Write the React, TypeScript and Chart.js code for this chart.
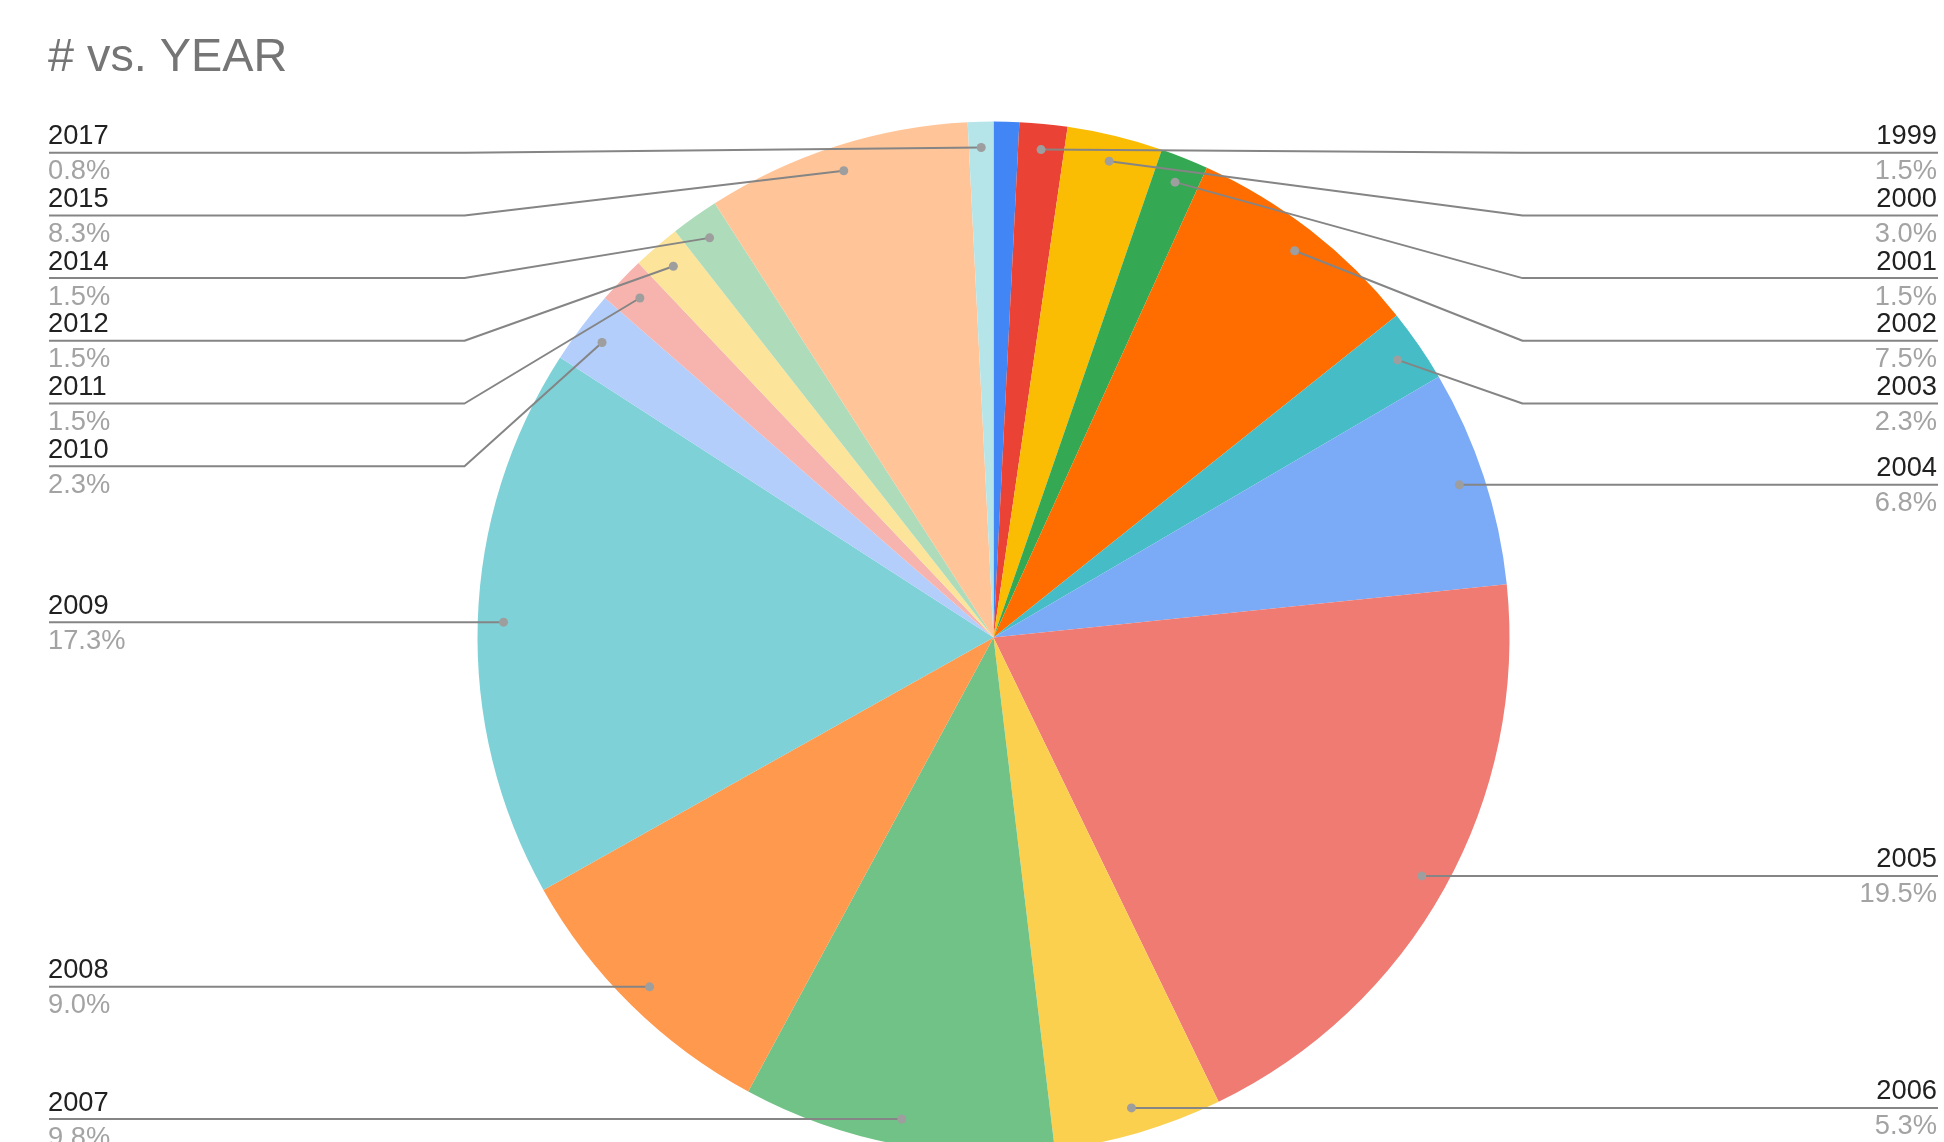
import React, { useEffect, useRef } from "react";
import { Chart, registerables } from "chart.js";

Chart.register(...registerables);

// ---- data ----
const chartTitle = "# vs. YEAR";
const years = ["", "1999", "2000", "2001", "2002", "2003", "2004", "2005", "2006", "2007", "2008", "2009", "2010", "2011", "2012", "2014", "2015", "2017"];
const shares = [0.8, 1.5, 3.0, 1.5, 7.5, 2.3, 6.8, 19.5, 5.3, 9.8, 9.0, 17.3, 2.3, 1.5, 1.5, 1.5, 8.3, 0.8];
const sliceColors = [
  "#4285F4", "#EA4335", "#FBBC04", "#34A853", "#FF6D01", "#46BDC6",
  "#7BAAF7", "#F07B72", "#FCD04F", "#71C287", "#FF994D", "#7ED1D7",
  "#B3CEFB", "#F7B4AE", "#FDE49B", "#AEDCBA", "#FFC599", "#B5E5E8",
];

// ---- layout constants ----
const W = 1944;
const H = 1160;
const FONT = "'Liberation Sans', Arial, Helvetica, sans-serif";
const LEFT_X = 49;
const RIGHT_X = 1938;
const MIN_Y = 152.7;
const SPACING = 62.7;

const labelPlugin = {
  id: "labeledPie",
  afterDatasetsDraw(chart: any) {
    const ctx: CanvasRenderingContext2D = chart.ctx;
    const meta = chart.getDatasetMeta(0);
    const items: any[] = [];
    meta.data.forEach((arc: any, i: number) => {
      if (!years[i]) return;
      const p = arc.getProps(["x", "y", "startAngle", "endAngle", "outerRadius"], true);
      const mid = (p.startAngle + p.endAngle) / 2;
      const r = p.outerRadius * 0.95;
      const dx = p.x + Math.cos(mid) * r;
      const dy = p.y + Math.sin(mid) * r;
      items.push({ i, dx, dy, right: dx >= p.x, cx: p.x, R: p.outerRadius });
    });

    const sides = [items.filter((d) => d.right), items.filter((d) => !d.right)];
    sides.forEach((side) => {
      side.sort((a, b) => a.dy - b.dy);
      let prev = -Infinity;
      side.forEach((d) => {
        d.ly = Math.max(d.dy, MIN_Y, prev + SPACING);
        prev = d.ly;
      });
    });

    ctx.save();
    // leader lines
    ctx.strokeStyle = "#858585";
    ctx.lineWidth = 2;
    ctx.lineJoin = "round";
    items.forEach((d) => {
      const elbowX = d.right ? d.cx + d.R + 13 : d.cx - d.R - 13;
      const endX = d.right ? RIGHT_X : LEFT_X;
      ctx.beginPath();
      ctx.moveTo(d.dx, d.dy);
      ctx.lineTo(elbowX, d.ly);
      ctx.lineTo(endX, d.ly);
      ctx.stroke();
    });
    // dots
    ctx.fillStyle = "#9e9e9e";
    items.forEach((d) => {
      ctx.beginPath();
      ctx.arc(d.dx, d.dy, 4.5, 0, Math.PI * 2);
      ctx.fill();
    });
    // texts
    ctx.font = `27.3px ${FONT}`;
    items.forEach((d) => {
      ctx.textAlign = d.right ? "right" : "left";
      const tx = d.right ? RIGHT_X - 1 : LEFT_X - 1;
      ctx.textBaseline = "alphabetic";
      ctx.fillStyle = "#212121";
      ctx.fillText(years[d.i], tx, d.ly - 8.5);
      ctx.fillStyle = "#a3a3a3";
      ctx.fillText(shares[d.i].toFixed(1) + "%", tx, d.ly + 26.5);
    });
    // title
    ctx.textAlign = "left";
    ctx.fillStyle = "#757575";
    ctx.font = `46.8px ${FONT}`;
    ctx.fillText(chartTitle, 48, 71);
    ctx.restore();
  },
};

export default function App() {
  const ref = useRef<HTMLCanvasElement | null>(null);
  useEffect(() => {
    document.body.style.margin = "0";
    const canvas = ref.current!;
    const chart = new Chart(canvas, {
      type: "pie",
      data: {
        labels: years,
        datasets: [
          {
            data: shares,
            backgroundColor: sliceColors,
            borderWidth: 0,
            hoverBorderWidth: 0,
            offset: 0,
            hoverOffset: 0,
          },
        ],
      },
      options: {
        responsive: false,
        animation: false,
        events: [],
        layout: { padding: { top: 121.5, bottom: 6.5, left: 43, right: 0 } },
        plugins: {
          legend: { display: false },
          tooltip: { enabled: false },
          title: { display: false },
        },
      },
      plugins: [labelPlugin],
    } as any);
    return () => chart.destroy();
  }, []);

  return (
    <div
      style={{
        position: "fixed",
        left: 0,
        top: 0,
        width: W,
        height: 1142,
        overflow: "hidden",
        background: "#ffffff",
      }}
    >
      <canvas ref={ref} width={W} height={H} style={{ display: "block", width: W, height: H }} />
    </div>
  );
}
